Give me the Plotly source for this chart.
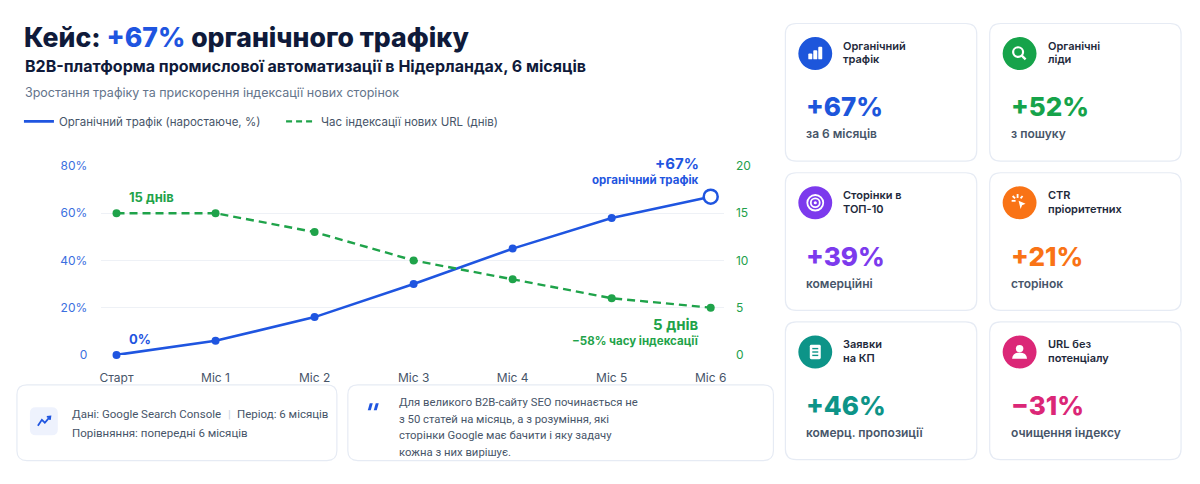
import plotly.graph_objects as go

W, H = 1200, 484
FONT = "Inter"
BODY_FONT = "Roboto"

# ------------------------------
# data
months = ["Старт", "Міс 1", "Міс 2", "Міс 3", "Міс 4", "Міс 5", "Міс 6"]
traffic_pct = [0, 6, 16, 30, 45, 58, 67]
index_days = [15, 15, 13, 10, 8, 6, 5]
left_ticks = [0, 20, 40, 60, 80]
left_ticktext = ["0", "20%", "40%", "60%", "80%"]
right_ticks = [0, 5, 10, 15, 20]

card_titles = [("Органічний", "трафік"), ("Органічні", "ліди"), ("Сторінки в", "ТОП-10"),
               ("CTR", "пріоритетних"), ("Заявки", "на КП"), ("URL без", "потенціалу")]
card_values = ["+67%", "+52%", "+39%", "+21%", "+46%", "−31%"]
card_notes = ["за 6 місяців", "з пошуку", "комерційні", "сторінок", "комерц. пропозиції", "очищення індексу"]
card_icons = ["bars", "search", "target", "click", "doc", "user"]
card_colors = ["#1d56db", "#16a34a", "#7c3aed", "#f97316", "#0d9488", "#db2777"]

quote_lines = ["Для великого B2B-сайту SEO починається не",
               "з 50 статей на місяць, а з розуміння, які",
               "сторінки Google має бачити і яку задачу",
               "кожна з них вирішує."]
# ------------------------------

BLUE = "#1f55e0"
GREEN = "#1fa34a"
DARK = "#0f1a3a"
GRAY = "#475569"


def px(x):
    return x / W


def py(y):
    return 1 - y / H


def rrect_path(x0, y0, x1, y1, r):
    pts = [("M", x0 + r, y0), ("L", x1 - r, y0), ("Q", x1, y0, x1, y0 + r), ("L", x1, y1 - r),
           ("Q", x1, y1, x1 - r, y1), ("L", x0 + r, y1), ("Q", x0, y1, x0, y1 - r),
           ("L", x0, y0 + r), ("Q", x0, y0, x0 + r, y0)]
    out = ""
    for p in pts:
        if p[0] == "Q":
            out += f"Q{px(p[1])},{py(p[2])} {px(p[3])},{py(p[4])} "
        else:
            out += f"{p[0]}{px(p[1])},{py(p[2])} "
    return out + "Z"


def poly_path(points, close=False):
    s = "M" + " L".join(f"{px(a)},{py(b)}" for a, b in points)
    return s + (" Z" if close else "")


shapes = []
annotations = []


def text(x, y, s, size=12, color=GRAY, weight=400, anchor="left", family=FONT):
    annotations.append(dict(x=px(x), y=py(y), xref="paper", yref="paper", text=s, showarrow=False,
                            xanchor=anchor, yanchor="middle",
                            font=dict(family=family, size=size, color=color, weight=weight)))


def circle(cx, cy, r, fill=None, line_color=None, lw=0):
    shapes.append(dict(type="circle", xref="paper", yref="paper", layer="below",
                       x0=px(cx - r), x1=px(cx + r), y0=py(cy + r), y1=py(cy - r),
                       fillcolor=fill or "rgba(0,0,0,0)",
                       line=dict(color=line_color or "rgba(0,0,0,0)", width=lw)))


def path(p, fill=None, line_color=None, lw=0):
    shapes.append(dict(type="path", xref="paper", yref="paper", path=p, layer="below",
                       fillcolor=fill or "rgba(0,0,0,0)",
                       line=dict(color=line_color or "rgba(0,0,0,0)", width=lw)))


def draw_icon(kind, cx, cy, color):
    circle(cx, cy, 17, fill=color)
    w = "white"
    if kind == "bars":
        for dx, h in [(-7, 6), (-2, 9.5), (3, 13)]:
            path(rrect_path(cx + dx, cy + 6 - h, cx + dx + 4, cy + 6, 1), fill=w)
    elif kind == "search":
        circle(cx - 1.5, cy - 1.5, 5, line_color=w, lw=2.2)
        path(poly_path([(cx + 2.2, cy + 2.2), (cx + 6, cy + 6)]), line_color=w, lw=2.4)
    elif kind == "target":
        circle(cx, cy, 8, line_color=w, lw=1.8)
        circle(cx, cy, 4.5, line_color=w, lw=1.8)
        circle(cx, cy, 1.6, fill=w)
    elif kind == "click":
        path(poly_path([(cx - 1, cy - 2), (cx + 6, cy + 1), (cx + 2.5, cy + 2.5), (cx + 1, cy + 6.5)], True), fill=w)
        for a, b in [((cx - 8, cy - 2), (cx - 4, cy - 2)), ((cx - 2, cy - 9), (cx - 2, cy - 5)),
                     ((cx - 7, cy - 7), (cx - 4.5, cy - 4.5)), ((cx + 3, cy - 7), (cx + 1, cy - 4.5))]:
            path(poly_path([a, b]), line_color=w, lw=1.8)
    elif kind == "doc":
        path(rrect_path(cx - 5.5, cy - 7.5, cx + 5.5, cy + 7.5, 1.5), fill=w)
        for dy in (-3.5, 0, 3.5):
            path(poly_path([(cx - 3, cy + dy), (cx + 3, cy + dy)]), line_color=color, lw=1.4)
    elif kind == "user":
        circle(cx, cy - 3.5, 3.8, fill=w)
        path(f"M{px(cx - 7.5)},{py(cy + 7)} Q{px(cx - 7)},{py(cy + 0.5)} {px(cx)},{py(cy + 0.5)} "
             f"Q{px(cx + 7)},{py(cy + 0.5)} {px(cx + 7.5)},{py(cy + 7)} Z", fill=w)


fig = go.Figure()

n = len(months)
fig.add_trace(go.Scatter(
    x=list(range(n)), y=traffic_pct, mode="lines+markers", showlegend=False,
    line=dict(color=BLUE, width=2.6),
    marker=dict(size=[8] * (n - 1) + [14], color=[BLUE] * (n - 1) + ["white"], opacity=1,
                line=dict(color=BLUE, width=[0] * (n - 1) + [2.5])),
    cliponaxis=False, hoverinfo="skip",
))
fig.add_trace(go.Scatter(
    x=list(range(n)), y=index_days, mode="lines+markers", yaxis="y2", showlegend=False,
    line=dict(color=GREEN, width=2.4, dash="8px,5px"),
    marker=dict(size=8, color=GREEN),
    cliponaxis=False, hoverinfo="skip",
))
# legend entries (line only, as in the original)
fig.add_trace(go.Scatter(x=[None], y=[None], mode="lines", name="Органічний трафік (наростаюче, %)",
                         line=dict(color=BLUE, width=2.6), legend="legend"))
fig.add_trace(go.Scatter(x=[None], y=[None], mode="lines", name="Час індексації нових URL (днів)",
                         line=dict(color=GREEN, width=2.4, dash="6px,4px"), legend="legend2"))

# chart annotations
text(702, 160, "+67%", size=15, color=BLUE, weight=700, anchor="right")
text(702, 178, "органічний трафік", size=11.5, color=BLUE, weight=700, anchor="right")
text(126, 195, "15 днів", size=13, color=GREEN, weight=700)
text(126, 342, "0%", size=13, color=BLUE, weight=700)
text(702, 327, "5 днів", size=15, color=GREEN, weight=700, anchor="right")
text(702, 344, "−58% часу індексації", size=11.5, color=GREEN, weight=700, anchor="right")

# headings
annotations.append(dict(x=px(21), y=py(30), xref="paper", yref="paper", showarrow=False,
                        xanchor="left", yanchor="middle",
                        text=f"Кейс: <span style='color:{BLUE}'>+67%</span> органічного трафіку",
                        font=dict(family=FONT, size=26.6, color=DARK, weight=800)))
text(22, 60, "B2B-платформа промислової автоматизації в Нідерландах, 6 місяців", size=16, color=DARK, weight=700)
text(22, 87, "Зростання трафіку та прискорення індексації нових сторінок", size=12.5, color="#64748b")

# KPI cards
col_x = [787, 992]
row_y = [16, 170, 324]
CW, CH = 192, 142
for i in range(len(card_values)):
    x0 = col_x[i % 2]
    y0 = row_y[i // 2]
    path(rrect_path(x0, y0, x0 + CW, y0 + CH, 11), fill="white", line_color="#e6ebf4", lw=1.2)
    draw_icon(card_icons[i], x0 + 30, y0 + 31, card_colors[i])
    text(x0 + 56, y0 + 23, card_titles[i][0], size=11, color="#1e293b", weight=600)
    text(x0 + 56, y0 + 37, card_titles[i][1], size=11, color="#1e293b", weight=600)
    text(x0 + 19, y0 + 86, card_values[i], size=26, color=card_colors[i], weight=800)
    text(x0 + 19, y0 + 114, card_notes[i], size=12, color=GRAY, weight=600)

# bottom info boxes
path(rrect_path(16, 389, 337, 467, 10), fill="white", line_color="#e6ebf4", lw=1.2)
path(rrect_path(29, 412, 57, 441, 6), fill="#eef2fd")
path(poly_path([(37, 431), (41, 425), (44, 428), (49, 422)]), line_color=BLUE, lw=1.8)
path(poly_path([(46, 422), (49.5, 421.5), (49, 425)]), line_color=BLUE, lw=1.8)
text(69, 419, "Дані: Google Search Console", size=11.5, color=GRAY, family=BODY_FONT)
text(226, 419, "|", size=11.5, color="#cbd5e1", family=BODY_FONT)
text(235, 419, "Період: 6 місяців", size=11.5, color=GRAY, family=BODY_FONT)
text(69, 439, "Порівняння: попередні 6 місяців", size=11.5, color=GRAY, family=BODY_FONT)

path(rrect_path(348, 389, 775, 467, 10), fill="white", line_color="#e6ebf4", lw=1.2)
path(poly_path([(368, 415), (370, 408), (373, 408), (371, 415)], True), fill=BLUE)
path(poly_path([(374, 415), (376, 408), (379, 408), (377, 415)], True), fill=BLUE)
for k, line in enumerate(quote_lines):
    text(397, 407 + k * 17.3, line, size=11.3, color=GRAY, family=BODY_FONT)

legend_style = dict(orientation="h", yanchor="middle", xanchor="left", y=py(117),
                    font=dict(family=FONT, size=11.5, color=GRAY), bgcolor="rgba(0,0,0,0)",
                    itemclick=False, itemdoubleclick=False)

fig.update_layout(
    width=W, height=H,
    margin=dict(l=0, r=0, t=0, b=0),
    paper_bgcolor="white", plot_bgcolor="rgba(0,0,0,0)",
    font=dict(family=FONT, size=12, color=GRAY),
    showlegend=True,
    legend=dict(x=px(18), **legend_style),
    legend2=dict(x=px(281), **legend_style),
    xaxis=dict(domain=[px(100), px(725)], range=[-0.16, 6.13],
               tickvals=list(range(n)), ticktext=months,
               showgrid=False, zeroline=False, showline=False,
               ticks="outside", ticklen=12, tickcolor="rgba(0,0,0,0)",
               tickfont=dict(family=FONT, size=12, color=GRAY)),
    yaxis=dict(domain=[py(358), py(163)], range=[0, 80],
               tickvals=left_ticks, ticktext=left_ticktext,
               gridcolor="#eef1f6", gridwidth=1, zeroline=False, showline=False,
               ticks="outside", ticklen=10, tickcolor="rgba(0,0,0,0)",
               tickfont=dict(family=FONT, size=12, color="#3b6fe0")),
    yaxis2=dict(overlaying="y", side="right", range=[0, 20], tickvals=right_ticks,
                showgrid=False, zeroline=False, showline=False,
                ticks="outside", ticklen=9, tickcolor="rgba(0,0,0,0)",
                tickfont=dict(family=FONT, size=12, color="#22a04b")),
    shapes=shapes,
    annotations=annotations,
)

fig.write_html("out.html", config={"displayModeBar": False},
               post_script="document.body.style.margin='0'; document.body.style.overflow='hidden';")
